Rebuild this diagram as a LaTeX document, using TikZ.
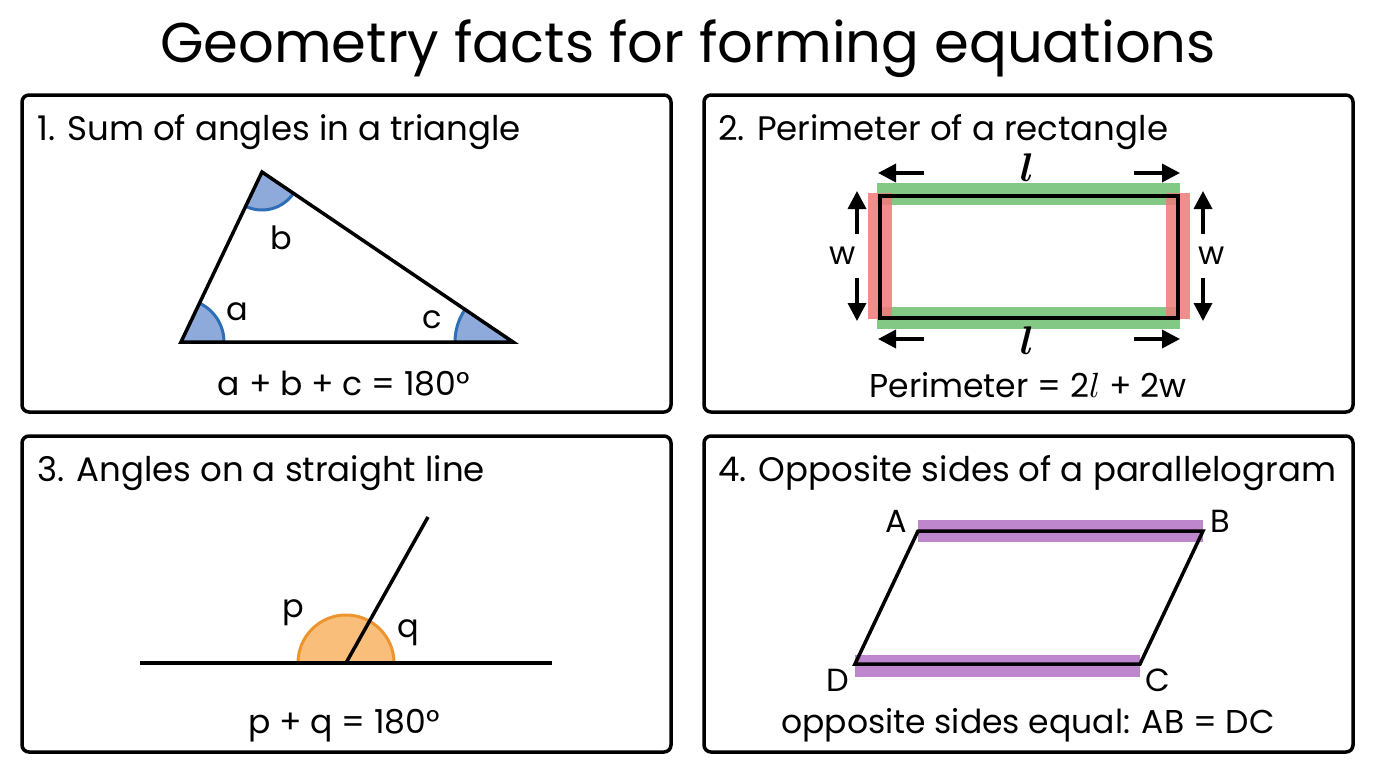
\documentclass[tikz,border=0pt]{standalone}
\usepackage{graphicx}
\usepackage{fontspec}
\setmainfont{Poppins}
\usetikzlibrary{arrows.meta}
\definecolor{angfill}{RGB}{142,170,219}
\definecolor{angline}{RGB}{46,110,182}
\definecolor{bandgreen}{RGB}{132,200,134}
\definecolor{bandred}{RGB}{240,122,122}
\definecolor{bandpurple}{RGB}{190,134,204}
\definecolor{orfill}{RGB}{249,190,122}
\definecolor{orline}{RGB}{236,148,48}
\newcommand{\bigell}[1]{\scalebox{#1}{\fontsize{10}{12}\selectfont$l$}}
\newcommand{\bigellb}[1]{\scalebox{#1}{\fontsize{10}{12}\selectfont\boldmath$l$}}
\begin{document}
\begin{tikzpicture}[x=1pt,y=-1pt,
  panel/.style={draw=black, line width=3.5pt, rounded corners=7pt},
  heading/.style={font=\fontsize{56}{56}\selectfont, anchor=base, inner sep=0pt},
  ptitle/.style={font=\fontsize{34}{34}\selectfont, anchor=base west, inner sep=0pt},
  lbl/.style={font=\fontsize{32}{32}\selectfont, inner sep=0pt},
  eqn/.style={font=\fontsize{33}{33}\selectfont, anchor=base, inner sep=0pt},
  geo/.style={draw=black, line width=3.5pt, line join=miter},
  arr/.style={draw=black, line width=3.5pt, -{Triangle[length=18pt,width=18pt]}},
  band/.style={line width=22pt, line cap=butt},
]
\useasboundingbox[fill=white] (0,0) rectangle (1376,768);

% title
\node[heading] (title) at (688,63) {Geometry facts for forming equations};

% panels
\draw[panel] (22,95) rectangle (671,412);
\draw[panel] (704,95) rectangle (1353,412);
\draw[panel] (22,436) rectangle (671,752);
\draw[panel] (704,436) rectangle (1353,752);

\node[ptitle] (t1) at (37,140) {1. Sum of angles in a triangle};
\node[ptitle] (t2) at (718,140) {2. Perimeter of a rectangle};
\node[ptitle] (t3) at (37,481) {3. Angles on a straight line};
\node[ptitle] (t4) at (718,481) {4. Opposite sides of a parallelogram};

% ---- panel 1: triangle
\coordinate (A) at (181,342);
\coordinate (T) at (262,172);
\coordinate (C) at (513,342);
\fill[angfill] (A) -- ++(0:43) arc[start angle=0,end angle=-64.5,radius=43] -- cycle;
\draw[angline, line width=3pt] (A) ++(0:43) arc[start angle=0,end angle=-64.5,radius=43];
\fill[angfill] (T) -- ++(-244.5:38) arc[start angle=-244.5,end angle=-325.9,radius=38] -- cycle;
\draw[angline, line width=3pt] (T) ++(-244.5:38) arc[start angle=-244.5,end angle=-325.9,radius=38];
\fill[angfill] (C) -- ++(-145.9:58) arc[start angle=-145.9,end angle=-180,radius=58] -- cycle;
\draw[angline, line width=3pt] (C) ++(-145.9:58) arc[start angle=-145.9,end angle=-180,radius=58];
\draw[geo] (A) -- (T) -- (C) -- cycle;
\node[lbl] (la) at (237,312) {a};
\node[lbl] (lb) at (281,238) {b};
\node[lbl] (lc) at (432,320) {c};
\node[eqn] (e1) at (344,395) {a + b + c = 180°};

% ---- panel 2: rectangle
\coordinate (R1) at (880,196);
\coordinate (R2) at (1178,196);
\coordinate (R3) at (1178,318);
\coordinate (R4) at (880,318);
\draw[band, bandgreen] (877,194) -- (1180,194);
\draw[band, bandgreen] (877,318) -- (1180,318);
\draw[bandred, opacity=0.85, line width=24pt] (880,193) -- (880,319);
\draw[bandred, opacity=0.85, line width=24pt] (1178,193) -- (1178,319);
\draw[geo] (R1) rectangle (R3);
\coordinate (h1) at (924,173); \coordinate (h1e) at (878,173);
\coordinate (h2) at (1134,173); \coordinate (h2e) at (1180,173);
\coordinate (h3) at (924,339); \coordinate (h3e) at (878,339);
\coordinate (h4) at (1134,339); \coordinate (h4e) at (1180,339);
\draw[arr] (h1) -- (h1e);
\draw[arr] (h2) -- (h2e);
\draw[arr] (h3) -- (h3e);
\draw[arr] (h4) -- (h4e);
\coordinate (v1) at (857,234); \coordinate (v1e) at (857,191);
\coordinate (v2) at (857,278); \coordinate (v2e) at (857,321);
\coordinate (v3) at (1203,234); \coordinate (v3e) at (1203,191);
\coordinate (v4) at (1203,278); \coordinate (v4e) at (1203,321);
\draw[arr] (v1) -- (v1e);
\draw[arr] (v2) -- (v2e);
\draw[arr] (v3) -- (v3e);
\draw[arr] (v4) -- (v4e);
\node[lbl, anchor=base] (l1) at (1027,181) {\bigellb{4}};
\node[lbl, anchor=base] (l2) at (1027,354) {\bigellb{4}};
\node[lbl] (w1) at (843,256) {w};
\node[lbl] (w2) at (1212,256) {w};
\node[eqn] (e2) at (1028,397) {Perimeter = 2\bigell{3.5} + 2w};

% ---- panel 3: straight line
\coordinate (O) at (346,663);
\coordinate (L1) at (140,663);
\coordinate (L2) at (552,663);
\coordinate (Rt) at (428,517);
\filldraw[fill=orfill, draw=orline, line width=3pt] (298,663) arc[start angle=180,end angle=360,radius=48] -- cycle;
\draw[geo] (L1) -- (L2);
\draw[geo] (O) -- (Rt);
\node[lbl] (lp) at (293,613) {p};
\node[lbl] (lq) at (408,633) {q};
\node[eqn] (e3) at (344,733) {p + q = 180°};

% ---- panel 4: parallelogram
\coordinate (PA) at (918,531);
\coordinate (PB) at (1203,531);
\coordinate (PC) at (1140,664);
\coordinate (PD) at (855,664);
\draw[band, bandpurple] (918,531) -- (1203,531);
\draw[band, bandpurple] (855,666) -- (1140,666);
\draw[geo] (PA) -- (PB) -- (PC) -- (PD) -- cycle;
\node[lbl] (nA) at (896,521) {A};
\node[lbl] (nB) at (1220,521) {B};
\node[lbl] (nC) at (1158,680) {C};
\node[lbl] (nD) at (838,680) {D};
\node[eqn] (e4) at (1028,733) {opposite sides equal: AB = DC};
\end{tikzpicture}
\end{document}
